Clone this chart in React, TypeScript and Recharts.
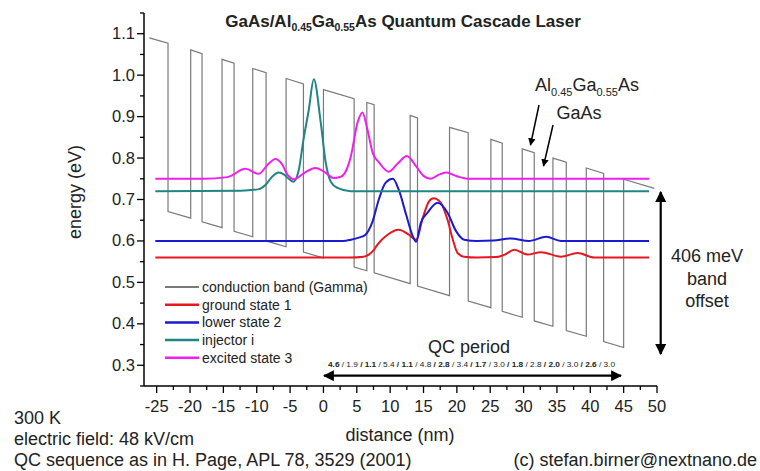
import React from 'react';
import { LineChart, Line, XAxis, YAxis } from 'recharts';

// conduction band corners (nm, eV)
const cbX = [-26.1, -23.3, -23.3, -19.9, -19.9, -18.2, -18.2, -15.2, -15.2, -13.4, -13.4, -10.6, -10.6, -8.6, -8.6, -5.6, -5.6, -3.0, -3.0, 0, 0, 4.6, 4.6, 6.5, 6.5, 7.6, 7.6, 13.0, 13.0, 14.1, 14.1, 18.9, 18.9, 21.7, 21.7, 25.1, 25.1, 26.8, 26.8, 29.8, 29.8, 31.6, 31.6, 34.4, 34.4, 36.4, 36.4, 39.4, 39.4, 42.0, 42.0, 45.0, 45.0, 49.6];
const cbE = [1.090, 1.077, 0.671, 0.655, 1.061, 1.052, 0.646, 0.632, 1.038, 1.029, 0.623, 0.610, 1.016, 1.006, 0.600, 0.586, 0.992, 0.979, 0.573, 0.559, 0.965, 0.943, 0.537, 0.528, 0.934, 0.929, 0.523, 0.497, 0.903, 0.897, 0.491, 0.468, 0.874, 0.861, 0.455, 0.439, 0.845, 0.836, 0.430, 0.416, 0.822, 0.813, 0.407, 0.394, 0.800, 0.790, 0.384, 0.370, 0.776, 0.763, 0.357, 0.343, 0.749, 0.727];

const groundX = [-25.2, 4.0, 6.0, 6.8, 7.5, 8.1, 9.6, 11.3, 12.8, 13.9, 14.9, 15.8, 16.5, 17.6, 18.6, 19.4, 20.1, 21.1, 23.0, 25.9, 27.3, 28.6, 30.6, 32.6, 35.6, 38.1, 40.6, 48.8];
const groundE = [0.56, 0.56, 0.562, 0.567, 0.577, 0.591, 0.615, 0.627, 0.615, 0.603, 0.656, 0.695, 0.703, 0.692, 0.651, 0.603, 0.571, 0.562, 0.56, 0.561, 0.568, 0.579, 0.567, 0.573, 0.562, 0.571, 0.56, 0.56];

const lowerX = [-25.2, 3.0, 4.1, 5.3, 6.3, 7.3, 8.3, 9.3, 10.4, 11.3, 12.4, 13.4, 13.9, 14.6, 15.6, 17.1, 18.6, 19.9, 21.1, 23.0, 25.5, 28.1, 30.8, 33.4, 35.6, 48.8];
const lowerE = [0.60, 0.60, 0.603, 0.608, 0.615, 0.644, 0.70, 0.74, 0.75, 0.723, 0.663, 0.611, 0.598, 0.644, 0.668, 0.692, 0.668, 0.623, 0.603, 0.60, 0.601, 0.606, 0.60, 0.61, 0.60, 0.60];

const injectorX = [-25.2, -12.4, -9.7, -8.7, -7.7, -6.7, -5.9, -5.2, -4.5, -3.7, -3.0, -2.2, -1.45, -0.4, 0.35, 1.1, 2.1, 4.1, 48.8];
const injectorE = [0.72, 0.721, 0.725, 0.735, 0.755, 0.765, 0.76, 0.75, 0.743, 0.771, 0.844, 0.916, 0.99, 0.885, 0.788, 0.743, 0.728, 0.72, 0.72];

const excitedX = [-25.2, -18, -14.4, -11.7, -9.7, -8.3, -7.2, -6.2, -5.4, -4.4, -2.8, -1.2, 0.3, 1.5, 2.6, 3.4, 4.1, 5.1, 5.85, 6.6, 7.4, 8.3, 9.8, 11.2, 12.5, 13.9, 15.0, 16.1, 17.3, 18.4, 20.0, 21.7, 48.8];
const excitedE = [0.75, 0.75, 0.754, 0.774, 0.762, 0.785, 0.798, 0.785, 0.76, 0.749, 0.765, 0.776, 0.765, 0.752, 0.755, 0.77, 0.804, 0.885, 0.91, 0.868, 0.812, 0.79, 0.767, 0.788, 0.805, 0.78, 0.757, 0.75, 0.76, 0.765, 0.756, 0.75, 0.75];

const xTicks = [-25, -22.5, -20, -17.5, -15, -12.5, -10, -7.5, -5, -2.5, 0, 2.5, 5, 7.5, 10, 12.5, 15, 17.5, 20, 22.5, 25, 27.5, 30, 32.5, 35, 37.5, 40, 42.5, 45, 47.5, 50];
const yTicks = [0.25, 0.3, 0.35, 0.4, 0.45, 0.5, 0.55, 0.6, 0.65, 0.7, 0.75, 0.8, 0.85, 0.9, 0.95, 1.0, 1.05, 1.1, 1.15];
const xMajor = [-25, -20, -15, -10, -5, 0, 5, 10, 15, 20, 25, 30, 35, 40, 45, 50];
const yMajor = [0.3, 0.4, 0.5, 0.6, 0.7, 0.8, 0.9, 1.0, 1.1];

// QC period layer thicknesses (nm), barriers in bold
const qcLayers = ['4.6', '1.9', '1.1', '5.4', '1.1', '4.8', '2.8', '3.4', '1.7', '3.0', '1.8', '2.8', '2.0', '3.0', '2.6', '3.0'];

const legendItems = [
  { name: 'conduction band (Gamma)', color: '#7a7a7a' },
  { name: 'ground state 1', color: '#e8161e' },
  { name: 'lower state 2', color: '#1a1ad2' },
  { name: 'injector i', color: '#1f8683' },
  { name: 'excited state 3', color: '#f01ef0' },
];

const FONT = '"Liberation Sans", Arial, sans-serif';

const zip = (xs: number[], es: number[]) => xs.map((x, i) => ({ x, e: es[i] }));

const isMajor = (list: number[], v: number) => list.some(m => Math.abs(m - v) < 1e-6);

const YTick = (props: any) => {
  const { x, y, payload } = props;
  const major = isMajor(yMajor, payload.value);
  return (
    <g>
      <line x1={x - (major ? 7 : 4)} x2={x} y1={y} y2={y} stroke="#000" strokeWidth={1.3} />
      {major && (
        <text x={x - 9} y={y + 5.5} textAnchor="end" fontSize={16.5} fontFamily={FONT} fill="#222">
          {payload.value.toFixed(1)}
        </text>
      )}
    </g>
  );
};

const XTick = (props: any) => {
  const { x, y, payload } = props;
  const major = isMajor(xMajor, payload.value);
  return (
    <g>
      <line x1={x} x2={x} y1={y} y2={y + (major ? 7 : 4)} stroke="#000" strokeWidth={1.3} />
      {major && (
        <text x={x} y={y + 26} textAnchor="middle" fontSize={16.5} fontFamily={FONT} fill="#222">
          {payload.value}
        </text>
      )}
    </g>
  );
};

const App = () => {
  return (
    <div style={{ position: 'absolute', left: 0, top: 0, width: 760, height: 471, background: '#fff' }}>
      <LineChart width={760} height={471} margin={{ top: 13, right: 103, bottom: 55, left: 84 }}>
        <XAxis
          type="number"
          dataKey="x"
          domain={[-26.9, 50]}
          ticks={xTicks}
          interval={0}
          allowDataOverflow
          height={30}
          tickSize={0}
          tickMargin={0}
          tickLine={false}
          tick={<XTick />}
          axisLine={{ stroke: '#000', strokeWidth: 1.5 }}
        />
        <YAxis
          type="number"
          dataKey="e"
          domain={[0.25, 1.15]}
          ticks={yTicks}
          interval={0}
          allowDataOverflow
          width={60}
          tickSize={0}
          tickMargin={0}
          tickLine={false}
          tick={<YTick />}
          axisLine={{ stroke: '#000', strokeWidth: 1.5 }}
        />
        <Line data={zip(cbX, cbE)} dataKey="e" type="linear" stroke={legendItems[0].color} strokeWidth={1.2} dot={false} isAnimationActive={false} />
        <Line data={zip(groundX, groundE)} dataKey="e" type="monotone" stroke={legendItems[1].color} strokeWidth={2} dot={false} isAnimationActive={false} />
        <Line data={zip(lowerX, lowerE)} dataKey="e" type="monotone" stroke={legendItems[2].color} strokeWidth={2} dot={false} isAnimationActive={false} />
        <Line data={zip(injectorX, injectorE)} dataKey="e" type="monotone" stroke={legendItems[3].color} strokeWidth={2} dot={false} isAnimationActive={false} />
        <Line data={zip(excitedX, excitedE)} dataKey="e" type="monotone" stroke={legendItems[4].color} strokeWidth={2} dot={false} isAnimationActive={false} />
      </LineChart>

      <svg width={760} height={471} style={{ position: 'absolute', left: 0, top: 0, pointerEvents: 'none' }} fontFamily={FONT}>
        <defs>
          <marker id="head" viewBox="0 0 10 10" refX="9" refY="5" markerWidth="5" markerHeight="5" orient="auto-start-reverse">
            <path d="M0,0 L10,5 L0,10 z" fill="#000" />
          </marker>
        </defs>

        <text x={403} y={27} textAnchor="middle" fontSize={17} fontWeight="bold" fill="#222">
          GaAs/Al<tspan fontSize={10.5} dy={4}>0.45</tspan>
          <tspan dy={-4}>Ga</tspan><tspan fontSize={10.5} dy={4}>0.55</tspan>
          <tspan dy={-4}>As Quantum Cascade Laser</tspan>
        </text>

        <text transform="translate(81,192) rotate(-90)" textAnchor="middle" fontSize={18} fill="#222">energy (eV)</text>
        <text x={400} y={441} textAnchor="middle" fontSize={18} fill="#222">distance (nm)</text>

        {legendItems.map((it, i) => (
          <g key={it.name}>
            <line x1={165} x2={199} y1={287 + i * 17.7} y2={287 + i * 17.7} stroke={it.color} strokeWidth={i === 0 ? 2 : 2.5} />
            <text x={202} y={292 + i * 17.7} fontSize={14} fill="#222">{it.name}</text>
          </g>
        ))}

        <text x={535} y={91} fontSize={18} fill="#222">
          Al<tspan fontSize={11} dy={5}>0.45</tspan>
          <tspan dy={-5}>Ga</tspan><tspan fontSize={11} dy={5}>0.55</tspan>
          <tspan dy={-5}>As</tspan>
        </text>
        <text x={579} y={119} textAnchor="middle" fontSize={18} fill="#222">GaAs</text>
        <line x1={539} y1={105} x2={530.5} y2={145} stroke="#000" strokeWidth={1.5} markerEnd="url(#head)" />
        <line x1={553} y1={125} x2={543.5} y2={166} stroke="#000" strokeWidth={1.5} markerEnd="url(#head)" />

        <line x1={660.7} y1={192} x2={660.7} y2={354} stroke="#000" strokeWidth={2.2} markerStart="url(#head)" markerEnd="url(#head)" />
        <text x={707} y={262} textAnchor="middle" fontSize={18} fill="#222">406 meV</text>
        <text x={707} y={285} textAnchor="middle" fontSize={18} fill="#222">band</text>
        <text x={707} y={307} textAnchor="middle" fontSize={18} fill="#222">offset</text>

        <text x={469} y={353} textAnchor="middle" fontSize={18} fill="#222">QC period</text>
        <text x={328} y={367} fontSize={7} fill="#222" textLength={287} lengthAdjust="spacingAndGlyphs">
          {qcLayers.map((v, i) => (
            <tspan key={i} fontWeight={i % 2 === 0 ? 'bold' : 'normal'}>{(i > 0 ? ' / ' : '') + v}</tspan>
          ))}
        </text>
        <line x1={324} y1={375.7} x2={621} y2={375.7} stroke="#000" strokeWidth={2.2} markerStart="url(#head)" markerEnd="url(#head)" />

        <text x={14} y={424} fontSize={18} fill="#222">300 K</text>
        <text x={14} y={445} fontSize={18} fill="#222">electric field: 48 kV/cm</text>
        <text x={14} y={466} fontSize={18} fill="#222">QC sequence as in H. Page, APL 78, 3529 (2001)</text>
        <text x={757} y={466} textAnchor="end" fontSize={18} fill="#222">(c) stefan.birner@nextnano.de</text>
      </svg>
    </div>
  );
};

export default App;
